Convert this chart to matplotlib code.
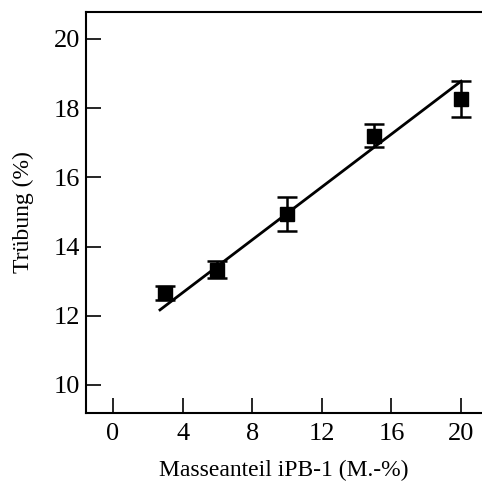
import matplotlib
matplotlib.use("Agg")
import matplotlib.pyplot as plt

x_vals = [3, 6, 10, 15, 20]
y_vals = [12.65, 13.33, 14.94, 17.2, 18.27]
y_err = [0.2, 0.25, 0.48, 0.33, 0.52]
fit_x = [2.7, 20]
fit_y = [12.17, 18.78]
x_ticks = [0, 4, 8, 12, 16, 20]
y_ticks = [10, 12, 14, 16, 18, 20]

plt.rcParams['font.family'] = ['Liberation Serif', 'DejaVu Serif']

fig = plt.figure(figsize=(4.82, 4.83), dpi=100)
ax = fig.add_axes([86/482, 70/483, 1 - 86/482, (413-12)/483])

ax.plot(fit_x, fit_y, color='black', lw=2, zorder=2)
ax.errorbar(x_vals, y_vals, yerr=y_err, fmt='s', color='black', ms=10,
            ecolor='black', elinewidth=1.8, capsize=7, capthick=1.8, zorder=3)

ax.set_xlim(-1.55, 21.2)
ax.set_ylim(9.19, 20.78)
ax.set_xticks(x_ticks)
ax.set_yticks(y_ticks)
ax.tick_params(direction='in', length=11, width=1.2, labelsize=19)
ax.tick_params(axis='x', pad=7)
ax.tick_params(axis='y', pad=4)
ax.spines['right'].set_visible(False)
for s in ['left', 'bottom', 'top']:
    ax.spines[s].set_linewidth(1.5)
ax.set_xlabel('Masseanteil iPB-1 (M.-%)', fontsize=17, labelpad=11)
ax.set_ylabel('Trübung (%)', fontsize=17, labelpad=14)

fig.savefig('out.png', dpi=100)
